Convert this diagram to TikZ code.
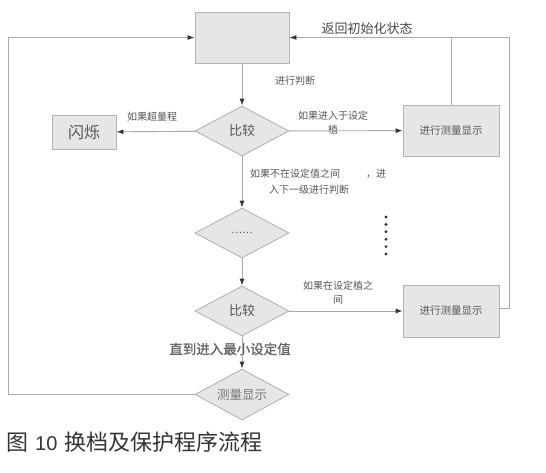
\documentclass[tikz,border=0pt]{standalone}
\usepackage{fontspec}
\newfontfamily\cjk{Noto Sans CJK SC}
\newfontfamily\cjkb[FakeBold=1.2]{Noto Sans CJK SC}
\newfontfamily\capfont{Liberation Sans}
\usetikzlibrary{shapes.geometric,arrows.meta}
\definecolor{boxfill}{HTML}{E6E6E6}
\definecolor{boxline}{HTML}{B4B4B4}
\definecolor{lineg}{HTML}{A8A8A8}
\definecolor{tipc}{HTML}{333333}
\definecolor{txt}{HTML}{555555}
\tikzset{
  box/.style={draw=boxline,fill=boxfill,line width=0.9pt,inner sep=0pt,font=\cjk,text=txt},
  dia/.style={diamond,draw=boxline,fill=boxfill,line width=0.9pt,inner sep=0pt,aspect=1.88,
    minimum width=94pt,minimum height=50pt,font=\cjk,text=txt},
  lbl/.style={font=\cjk\fontsize{10}{14}\selectfont,text=txt,align=center,inner sep=0pt},
  link/.style={draw=lineg,line width=0.9pt},
  arr/.style={link,-{Latex[length=7pt,width=5pt,color=tipc]}},
}
\begin{document}
\begin{tikzpicture}[x=1pt,y=-1pt]
\useasboundingbox (0,0) rectangle (546,472);
% nodes
\node[box,minimum width=94pt,minimum height=51pt] (top) at (242,37.5) {};
\node[dia,font=\cjk\fontsize{13}{13}\selectfont] (d1) at (242,131) {比较};
\node[box,minimum width=64pt,minimum height=34pt,font=\cjk\fontsize{16}{16}\selectfont] (flash) at (84,132) {闪烁};
\node[box,minimum width=96pt,minimum height=51pt,font=\cjk\fontsize{10.5}{11}\selectfont] (m1) at (451,130.5) {进行测量显示};
\node[dia,font=\cjk\fontsize{10}{10}\selectfont] (d2) at (242,233) {……};
\node[dia,font=\cjk\fontsize{13}{13}\selectfont] (d3) at (242,311) {比较};
\node[box,minimum width=96pt,minimum height=52pt,font=\cjk\fontsize{10.5}{11}\selectfont] (m2) at (451,311) {进行测量显示};
\node[dia,minimum height=51pt,font=\cjk\fontsize{12.5}{13}\selectfont,text=txt!80] (d4) at (242,394.5) {测量显示};
% labels
\node[lbl,font=\cjk\fontsize{13}{13}\selectfont,text=tipc!90] (lret) at (367,29) {返回初始化状态};
\node[lbl] (ljudge) at (295,81) {进行判断};
\node[lbl] (lover) at (152,117) {如果超量程};
\node[lbl] (lin1) at (333,123) {如果进入于设定\\植};
\node[lbl,anchor=west] (lnot1) at (250,174) {如果不在设定值之间\hspace{26pt}，进};
\node[lbl,anchor=west] (lnot2) at (269,190) {入下一级进行判断};
\node[lbl] (lin2) at (338,292.5) {如果在设定植之\\间};
\node[lbl,font=\cjkb\fontsize{13.5}{13.5}\selectfont,text=txt!90] (lmin) at (230,349) {直到进入最小设定值};
% vertical dots
\foreach \yy in {217,224.4,231.8,239.2,246.6,254} \fill[tipc] (386,\yy) circle (1.6pt);
% connectors
\coordinate (cl) at (8,394.5);
\coordinate (cr) at (509,308);
\draw[arr] (top) -- (d1);
\draw[arr] (d1) -- (flash);
\draw[arr] (d1) -- (m1);
\draw[arr] (d1) -- (d2);
\draw[arr] (d2) -- (d3);
\draw[arr] (d3) -- (m2);
\draw[arr] (d3) -- (d4);
\draw[arr] (d4.west) -- (cl) |- (top.west);
\draw[arr] (m2.east |- cr) -- (cr) |- (top.east);
\draw[link] (m1.north) -- (m1.north |- top.east);
% caption
\node[font=\cjk\fontsize{22}{22}\selectfont,text=tipc,anchor=west,inner sep=0pt] (cap) at (6,442) {图\,{\capfont\fontsize{20}{20}\selectfont\,10\,}\,换档及保护程序流程};
\end{tikzpicture}
\end{document}
